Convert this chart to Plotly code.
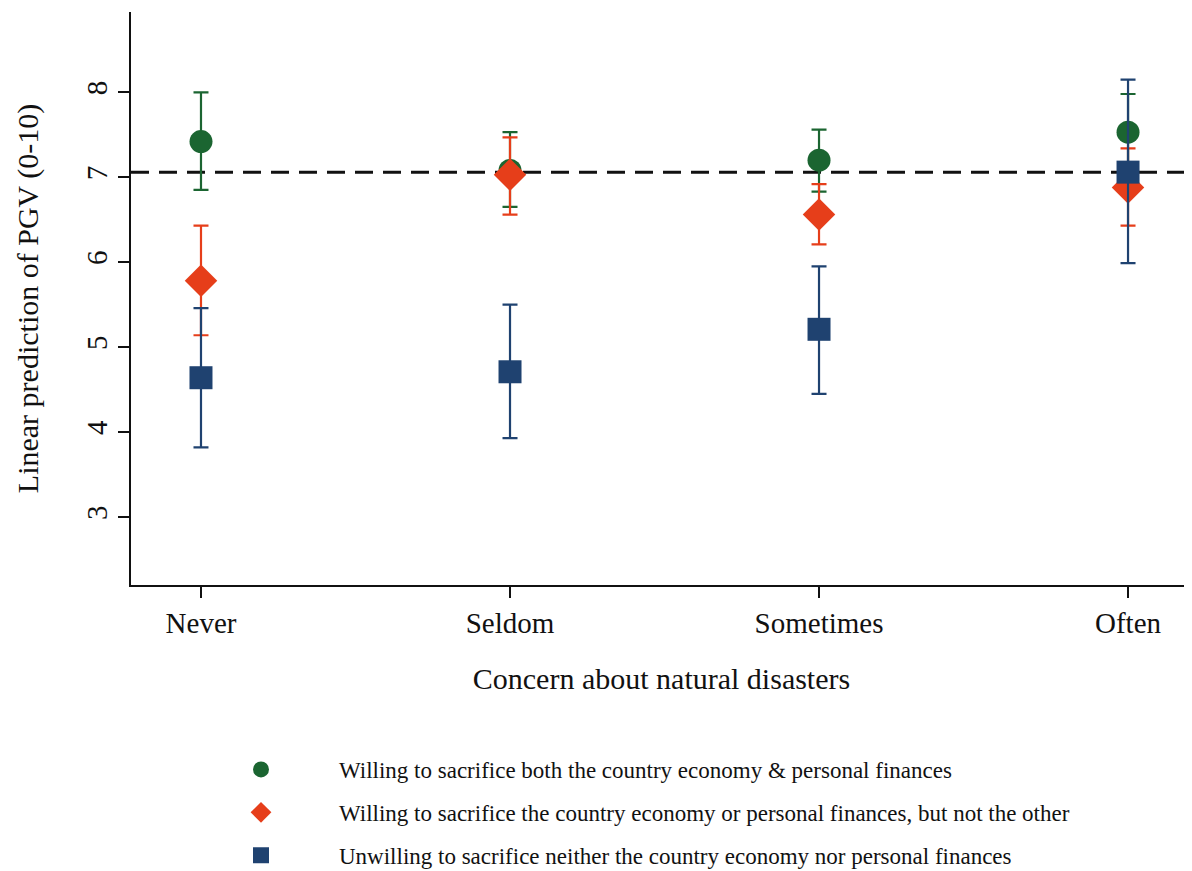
import plotly.graph_objects as go

categories = ["Never", "Seldom", "Sometimes", "Often"]

series_names = [
    "Willing to sacrifice both the country economy & personal finances",
    "Willing to sacrifice the country economy or personal finances, but not the other",
    "Unwilling to sacrifice neither the country economy nor personal finances",
]

both_mean = [7.42, 7.08, 7.20, 7.53]
both_low = [6.85, 6.65, 6.83, 7.09]
both_high = [8.00, 7.53, 7.56, 7.98]

one_mean = [5.78, 7.03, 6.56, 6.88]
one_low = [5.14, 6.56, 6.21, 6.43]
one_high = [6.43, 7.47, 6.92, 7.34]

none_mean = [4.64, 4.71, 5.21, 7.06]
none_low = [3.82, 3.93, 4.45, 5.99]
none_high = [5.46, 5.50, 5.95, 8.15]

reference_line = 7.06

colors = ["#1b6531", "#e63e1a", "#1f4270"]
symbols = ["circle", "diamond", "square"]
sizes = [23, 25, 23]

FONT = "Liberation Serif"

fig = go.Figure()
data = [
    (both_mean, both_low, both_high),
    (one_mean, one_low, one_high),
    (none_mean, none_low, none_high),
]
for i, (m, lo, hi) in enumerate(data):
    fig.add_trace(go.Scatter(
        x=categories, y=m, mode="markers", name=series_names[i],
        legendgroup=f"g{i}",
        marker=dict(color=colors[i], symbol=symbols[i], size=sizes[i], line=dict(width=0)),
        error_y=dict(type="data", symmetric=False,
                     array=[h - v for h, v in zip(hi, m)],
                     arrayminus=[v - l for v, l in zip(m, lo)],
                     color=colors[i], thickness=2.2, width=7.5),
    ))

fig.add_shape(type="line", xref="paper", x0=0, x1=1, yref="y",
              y0=reference_line, y1=reference_line,
              line=dict(color="#111111", width=3, dash="18px,10px"), layer="below")

# page body has an 8px margin; compensate so the plot sits where the reference has it
ML, MR, MT, MB = 123, 8, 4, 294
plot_w = 1192 - ML - MR
plot_h = 871 - MT - MB

fig.update_layout(
    width=1192, height=871,
    margin=dict(l=ML, r=MR, t=MT, b=MB, autoexpand=False),
    plot_bgcolor="white", paper_bgcolor="white",
    font=dict(family=FONT, color="#111111", size=29),
    showlegend=True,
    legend=dict(
        xref="paper", yref="paper",
        x=(183 - 131) / plot_w, y=-(748 - 585) / plot_h, xanchor="left", yanchor="top",
        font=dict(family=FONT, size=23, color="#111111"),
        itemwidth=146, tracegroupgap=10, bgcolor="rgba(0,0,0,0)",
    ),
    xaxis=dict(
        type="category", range=[-0.2265, 3.207],
        showline=True, linecolor="#111111", linewidth=1.5,
        ticks="outside", ticklen=11, tickwidth=1.5, tickcolor="#111111",
        showgrid=False, zeroline=False, tickangle=0,
        tickfont=dict(family=FONT, size=29),
        title=dict(text="Concern about natural disasters", font=dict(family=FONT, size=30), standoff=30),
    ),
    yaxis=dict(
        range=[2.2, 8.945],
        tickvals=[3, 4, 5, 6, 7, 8],
        showline=True, linecolor="#111111", linewidth=1.5,
        ticks="outside", ticklen=11, tickwidth=1.5, tickcolor="#111111",
        showgrid=False, zeroline=False, tickangle=-90,
        tickfont=dict(family=FONT, size=29),
        title=dict(text="Linear prediction of PGV (0-10)", font=dict(family=FONT, size=30), standoff=33),
    ),
)

fig.write_html("out.html")
